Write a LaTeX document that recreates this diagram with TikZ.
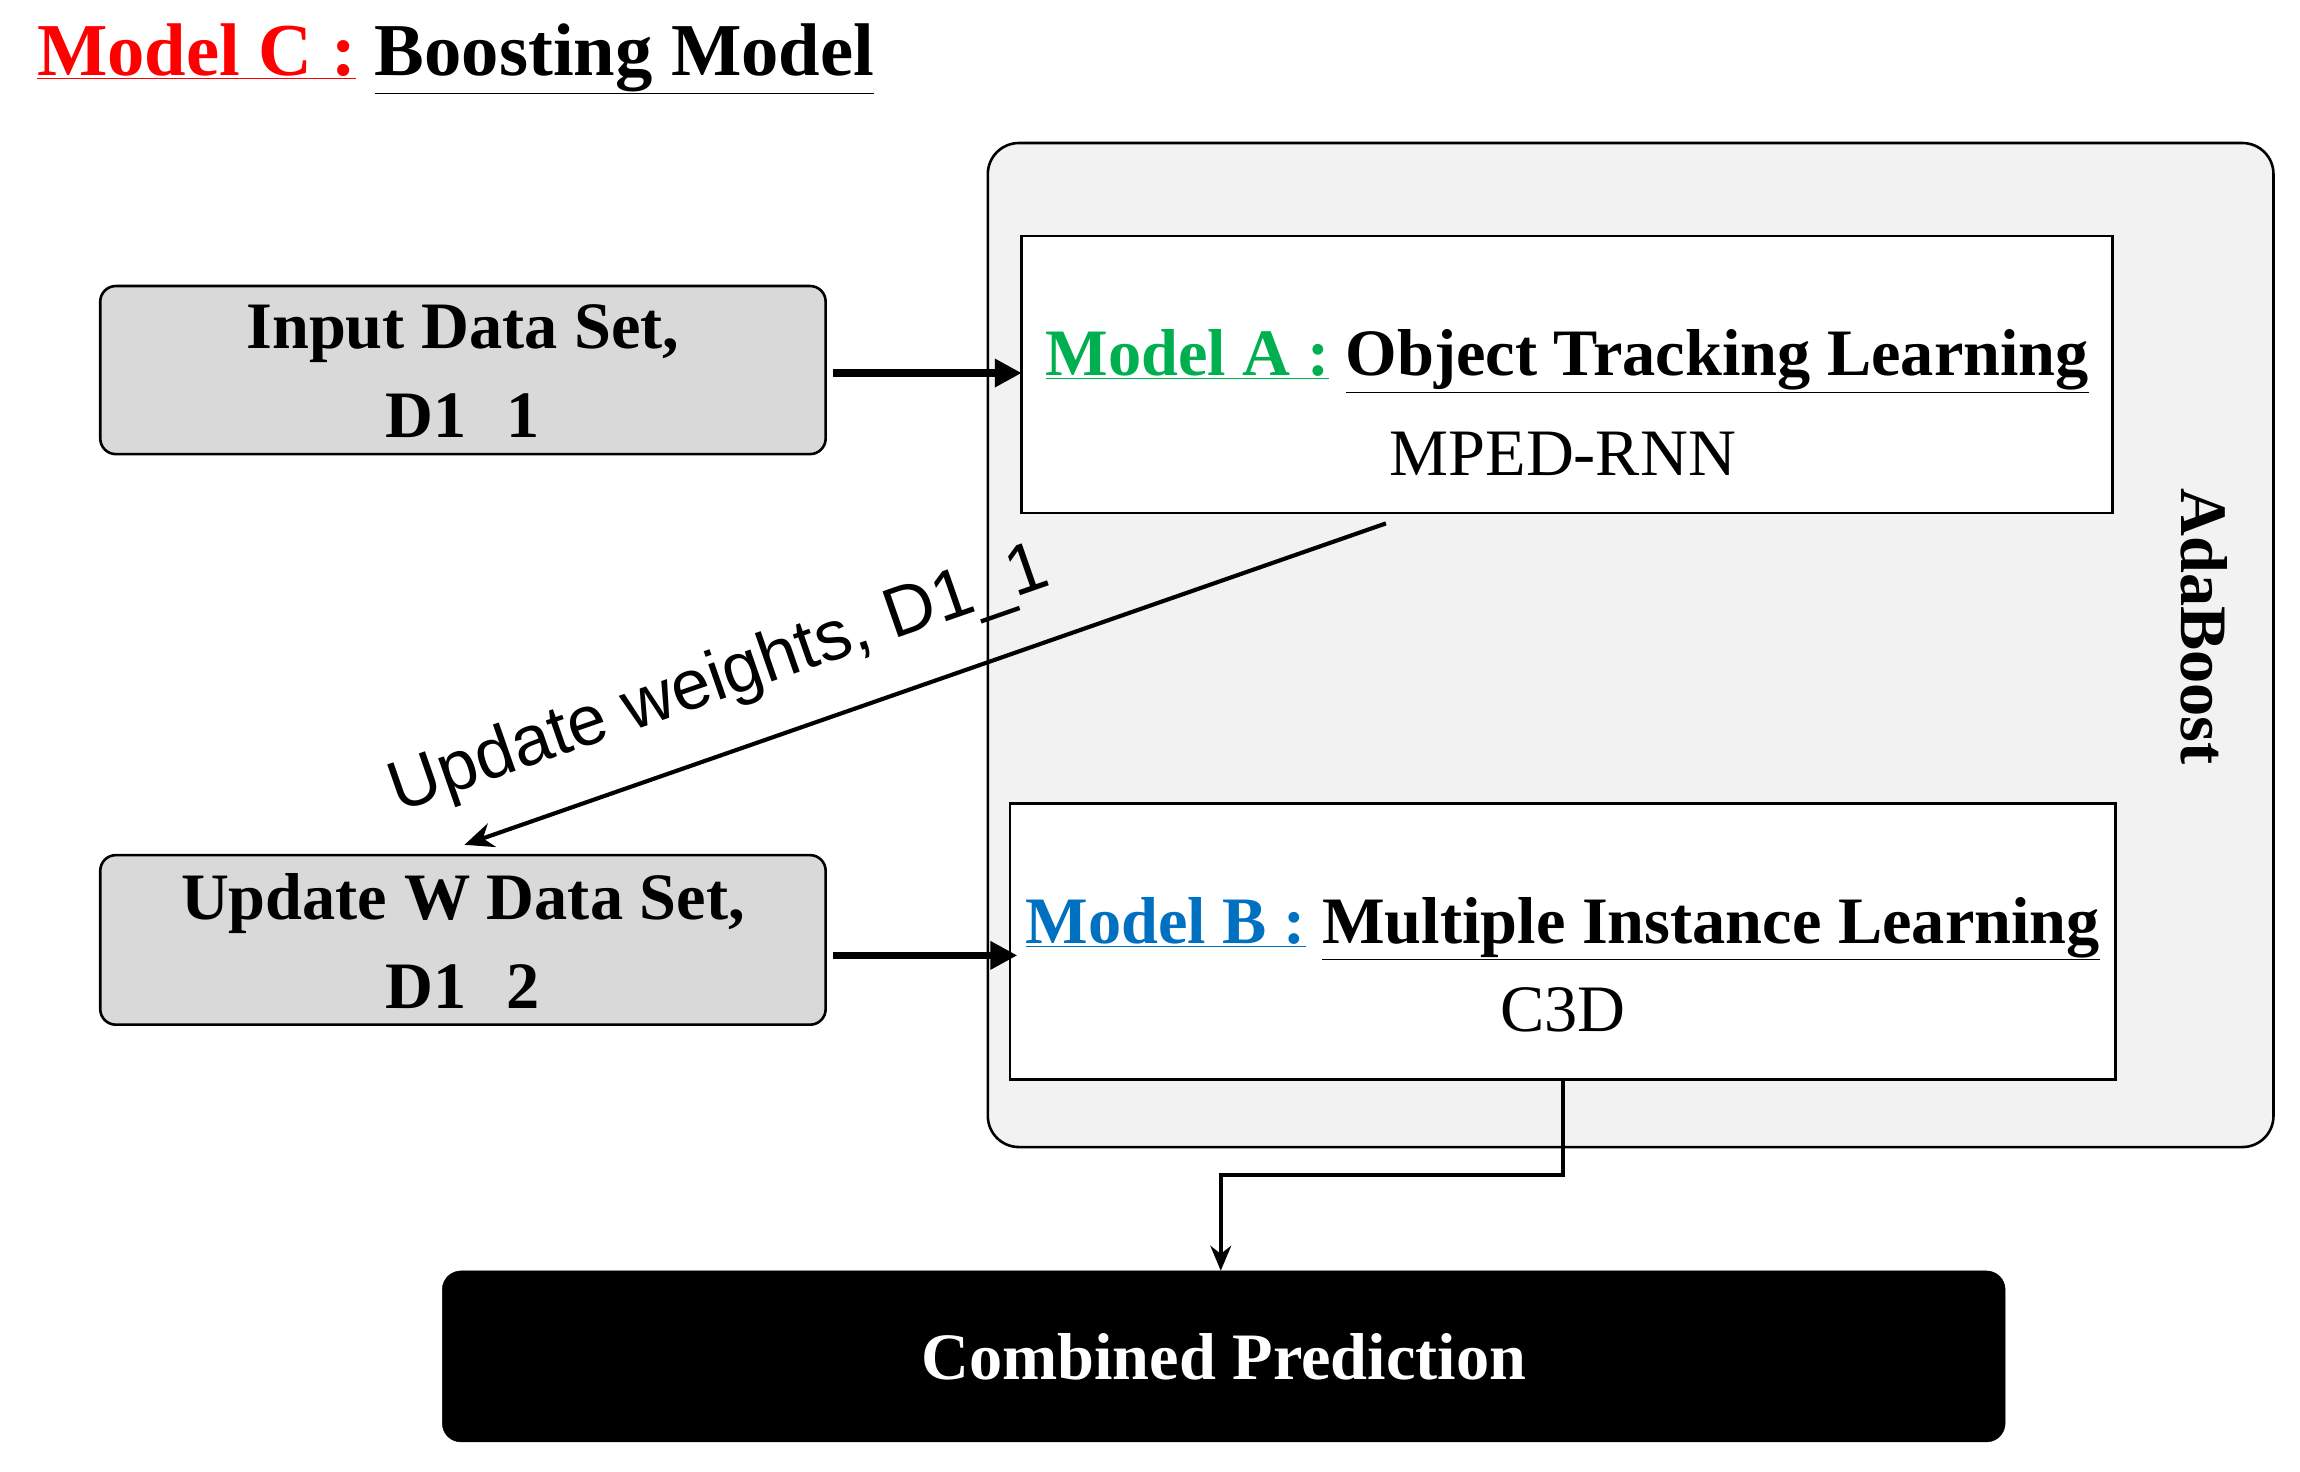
\documentclass[tikz,border=0pt]{standalone}
\usepackage{fontspec}
\setmainfont{Liberation Serif}
\newfontfamily\lsans{Liberation Sans}
\usetikzlibrary{arrows.meta}
\definecolor{mgreen}{HTML}{00B050}
\definecolor{mblue}{HTML}{0070C0}
\definecolor{outerfill}{HTML}{F2F2F2}
\definecolor{boxfill}{HTML}{D9D9D9}
\begin{document}
\begin{tikzpicture}[x=0.05cm,y=-0.05cm,
  big/.style={font=\fontsize{64}{86}\selectfont\bfseries},
  reg/.style={font=\fontsize{64}{70}\selectfont},
  gbox/.style={draw=black,line width=2.5pt,rounded corners=15,fill=boxfill},
  wbox/.style={draw=black,line width=2.5pt,fill=white},
  arr/.style={line width=7pt,-{Triangle[length=26pt,width=26pt]}},
  thin arr/.style={line width=4pt,-{Stealth[length=28pt,width=24pt]}}]
\useasboundingbox (0,0) rectangle (1560,998);
\node[anchor=west,inner sep=0,font=\fontsize{72}{78}\selectfont\bfseries] (title) at (25,40)
  {\textcolor{red}{\underline{Model C :}} \underline{Boosting Model}};
\draw[line width=2.5pt,rounded corners=30,fill=outerfill] (670,97) rectangle (1542,778);
\node[rotate=-90,big] (ada) at (1495,425) {AdaBoost};
\draw[wbox] (693,160) rectangle (1433,348);
\coordinate (Ain) at (693,253);
\coordinate (Aout) at (940,355);
\node[big,inner sep=0] (Atxt) at (1063,245) {\textcolor{mgreen}{\underline{Model A :}} \underline{Object Tracking Learning}};
\node[reg,inner sep=0] (Asub) at (1060,308) {MPED-RNN};
\draw[wbox] (685,545) rectangle (1435,732);
\coordinate (Bin) at (690,648);
\coordinate (Bout) at (1060,732);
\node[big,inner sep=0] (Btxt) at (1060,630) {\textcolor{mblue}{\underline{Model B :}} \underline{Multiple Instance Learning}};
\node[reg,inner sep=0] (Bsub) at (1060,685) {C3D};
\draw[gbox] (68,194) rectangle (560,308);
\node[big,align=center,inner sep=0] (in) at (314,252) {Input Data Set,\\D1\hspace{0.6em}1};
\coordinate (inR) at (565,253);
\draw[gbox] (68,580) rectangle (560,695);
\node[big,align=center,inner sep=0] (up) at (314,638) {Update W Data Set,\\D1\hspace{0.6em}2};
\coordinate (upR) at (565,648);
\coordinate (upT) at (315,573);
\draw[arr] (inR) -- (Ain);
\draw[arr] (upR) -- (Bin);
\draw[thin arr] (Aout) -- (upT);
\node[rotate=19.2,inner sep=0,font=\lsans\fontsize{68}{70}\selectfont] (lab) at (488,462) {Update weights, D1\_1};
\node[draw=black,fill=black,rounded corners=18,minimum width=1060*0.05cm,minimum height=116*0.05cm,
  text=white,big] (comb) at (830,920) {Combined Prediction};
\draw[line width=4pt,-{Stealth[length=24pt,width=20pt]}] (Bout) -- (1060,797) -- (828,797) -- (comb.north -| 828,0);
\end{tikzpicture}
\end{document}
